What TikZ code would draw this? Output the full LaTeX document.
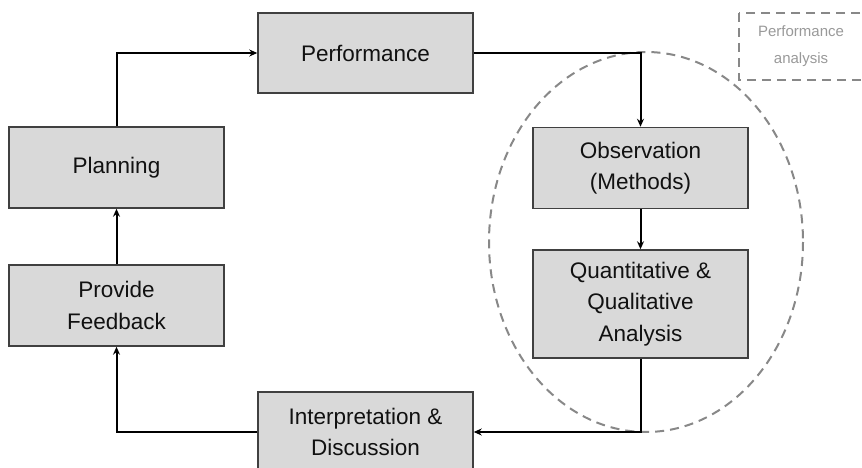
\documentclass[tikz,border=0pt]{standalone}
\usepackage{fontspec}
\setmainfont{Liberation Sans}
\usetikzlibrary{arrows.meta}
\definecolor{boxfill}{HTML}{D9D9D9}
\definecolor{boxline}{HTML}{404040}
\definecolor{txt}{HTML}{111111}
\definecolor{dashgray}{HTML}{888888}
\definecolor{notegray}{HTML}{999999}
\tikzset{
  stagebox/.style={draw=boxline, line width=1.5pt, fill=boxfill, text=txt,
    minimum width=215pt, inner sep=0pt, align=center,
    font=\fontsize{22.5}{31.5}\selectfont},
  flow/.style={draw=black, line width=2pt,
    -{Stealth[length=8pt,width=7pt]}},
  halo/.style={draw=dashgray, line width=2pt, dash pattern=on 9pt off 6pt},
}
\begin{document}
\begin{tikzpicture}[x=1pt,y=-1pt]
  \clip (0,0) rectangle (862,468);
  \useasboundingbox (0,0) rectangle (862,468);

  % dashed ellipse around the analysis stages
  \draw[halo] (646,242) ellipse [x radius=157, y radius=190];

  % legend box
  \draw[halo, line width=1.8pt] (739,13) rectangle (875,80);
  \node[text=notegray, align=center, font=\fontsize{15}{27}\selectfont]
    (legend) at (801,46.5) {Performance\\analysis};

  % stages of the cycle
  \node[stagebox, minimum height=80pt]  (perf)   at (365.5,53)  {Performance};
  \node[stagebox, minimum height=81pt]  (plan)   at (116.5,167.5) {Planning};
  \node[stagebox, minimum height=81pt]  (feed)   at (116.5,305.5) {Provide\\Feedback};
  \node[stagebox, minimum height=81pt]  (obs)    at (640.5,168) {Observation\\(Methods)};
  \node[stagebox, minimum height=108pt] (quant)  at (640.5,304) {Quantitative \&\\Qualitative\\Analysis};
  \node[stagebox, minimum height=80pt]  (interp) at (365.5,432) {Interpretation \&\\Discussion};

  % connectors
  \draw[flow] (plan.north) |- (perf.west);
  \draw[flow] (perf.east) -| (obs.north);
  \draw[flow] (obs.south) -- (quant.north);
  \draw[flow] (quant.south) |- (interp.east);
  \draw[flow] (interp.west) -| (feed.south);
  \draw[flow] (feed.north) -- (plan.south);
\end{tikzpicture}
\end{document}
